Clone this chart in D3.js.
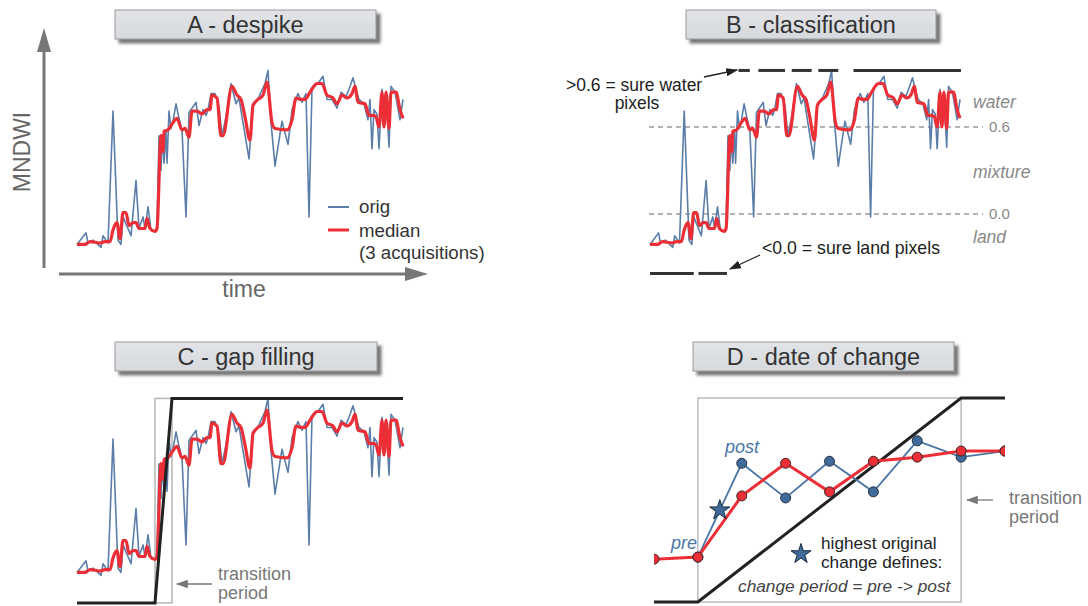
<!DOCTYPE html>
<html>
<head>
<meta charset="utf-8">
<script src="https://cdn.jsdelivr.net/npm/d3@7"></script>
<style>
  body { margin: 0; background: #fff; }
  svg { display: block; font-family: "Liberation Sans", Arial, sans-serif; }
</style>
</head>
<body>
<div id="chart"></div>
<script>
// original MNDWI series (time index, value)
const origT = [0, 9, 11, 16, 24, 26, 31, 36, 41, 44, 46, 54, 59, 62, 66, 68, 71, 74, 78, 80,
  82, 84, 85, 87, 89, 90, 92, 94, 96, 99, 102, 105, 109, 112, 119, 122, 126, 129, 131, 134,
  138, 142, 145, 149, 154, 159, 162, 166, 172, 176, 182, 188, 191, 194, 198, 205, 211, 215, 221, 225,
  229, 232, 235, 241, 246, 250, 255, 260, 264, 269, 272, 276, 279, 282, 287, 291, 293, 295, 297, 300,
  302, 305, 307, 309, 312, 314, 318, 323, 326];
const origV = [-0.21, -0.13, -0.20, -0.18, -0.23, -0.15, -0.20, 0.71, -0.18, -0.21, -0.02, -0.15, 0.23, -0.10, -0.02, -0.10, 0.05, -0.11, -0.12, -0.10,
  0.54, 0.30, 0.54, 0.35, 0.57, 0.35, 0.71, 0.59, 0.64, 0.76, 0.66, 0.58, -0.02, 0.70, 0.77, 0.61, 0.72, 0.68, 0.72, 0.83,
  0.83, 0.74, 0.54, 0.67, 0.90, 0.76, 0.80, 0.63, 0.38, 0.74, 0.81, 0.90, 0.99, 0.63, 0.33, 0.64, 0.48, 0.72, 0.83, 0.77,
  0.83, -0.02, 0.87, 0.90, 0.95, 0.79, 0.79, 0.73, 0.84, 0.81, 0.86, 0.94, 0.86, 0.79, 0.76, 0.65, 0.79, 0.45, 0.72, 0.69,
  0.45, 0.86, 0.60, 0.84, 0.46, 0.88, 0.84, 0.65, 0.79];

// median of 3 acquisitions
const medT = [0, 8, 13, 23, 28, 33, 36, 40, 43, 46, 49, 52, 56, 59, 62, 68, 70, 73, 78, 80,
  84, 86, 87, 91, 95, 100, 105, 108, 112, 115, 120, 125, 130, 133, 135, 140, 144, 146, 155, 160,
  164, 168, 173, 176, 181, 186, 190, 195, 198, 210, 215, 219, 224, 228, 233, 240, 245, 250, 256, 260,
  265, 270, 275, 278, 281, 288, 292, 296, 299, 302, 305, 307, 309, 312, 314, 319, 323, 326];
const medV = [-0.21, -0.21, -0.19, -0.20, -0.19, -0.19, -0.11, -0.06, -0.17, 0.01, 0.01, -0.08, -0.06, -0.06, -0.10, -0.10, -0.03, -0.10, -0.12, -0.10,
  0.54, 0.43, 0.57, 0.58, 0.62, 0.66, 0.58, 0.59, 0.53, 0.71, 0.71, 0.69, 0.72, 0.72, 0.82, 0.80, 0.54, 0.54, 0.88, 0.82,
  0.79, 0.67, 0.51, 0.75, 0.79, 0.82, 0.91, 0.63, 0.59, 0.58, 0.65, 0.80, 0.79, 0.79, 0.84, 0.90, 0.90, 0.82, 0.80, 0.76,
  0.82, 0.80, 0.83, 0.88, 0.77, 0.76, 0.68, 0.68, 0.67, 0.60, 0.84, 0.60, 0.84, 0.59, 0.84, 0.84, 0.72, 0.66];

// classification thresholds and sure-pixel periods
const thresholds = [0.6, 0.0];
const thresholdLabels = ["0.6", "0.0"];
const classNames = ["water", "mixture", "land"];
const classLevels = [0.77, 0.29, -0.16];
const waterRuns = [[93, 105], [114, 142], [149, 170], [177, 198], [214, 327]];
const landRuns = [[0, 46], [51, 81]];
const sureWater = 0.99, sureLand = -0.41;

// gap filling step
const gapT = [0, 78, 95, 326];
const gapV = [-0.42, -0.42, 0.99, 0.99];

// date of change, zoomed view
const dIdx = [0, 1, 2, 3, 4, 5, 6, 7, 8];
const dMedian = [0.21, 0.22, 0.52, 0.68, 0.54, 0.69, 0.71, 0.74, 0.74];
const dOrigIdx = [1, 2, 3, 4, 5, 6, 7, 8];
const dOrig = [0.22, 0.68, 0.51, 0.69, 0.54, 0.79, 0.71, 0.74];
const dStepIdx = [0, 1, 7, 8];
const dStepV = [0, 0, 1, 1];

const titles = ["A - despike", "B - classification", "C - gap filling", "D - date of change"];

const blue = "#5a7ea9", red = "#ec2f36", dotBlue = "#3e6b9c";

const svg = d3.select("#chart").append("svg")
  .attr("width", 1088).attr("height", 606);

const defs = svg.append("defs");
const shadow = defs.append("filter").attr("id", "shadow")
  .attr("x", "-5%").attr("y", "-20%").attr("width", "115%").attr("height", "160%");
shadow.append("feDropShadow").attr("dx", 4).attr("dy", 4).attr("stdDeviation", 1.6)
  .attr("flood-color", "#555").attr("flood-opacity", 0.8);
const grad = defs.append("linearGradient").attr("id", "boxfill").attr("x1", 0).attr("y1", 0).attr("x2", 0).attr("y2", 1);
grad.append("stop").attr("offset", "0%").attr("stop-color", "#e2e4e7");
grad.append("stop").attr("offset", "100%").attr("stop-color", "#d6d9dd");

function arrowMarker(id, color, size) {
  defs.append("marker").attr("id", id)
    .attr("viewBox", "0 0 10 10").attr("refX", 9).attr("refY", 5)
    .attr("markerWidth", size).attr("markerHeight", size)
    .attr("markerUnits", "userSpaceOnUse")
    .attr("orient", "auto")
    .append("path").attr("d", "M0,1.5 L10,5 L0,8.5 Z").attr("fill", color);
}
arrowMarker("arrBlack", "#222", 12);
arrowMarker("arrGray", "#777", 12);

// title boxes
const boxes = [[115, 10, 261], [686, 10, 250], [115, 342, 262], [693, 342, 261]];
boxes.forEach((b, i) => {
  svg.append("rect").attr("x", b[0]).attr("y", b[1]).attr("width", b[2]).attr("height", 29)
    .attr("fill", "url(#boxfill)").attr("stroke", "#999").attr("stroke-width", 1)
    .attr("filter", "url(#shadow)");
  svg.append("text").attr("x", b[0] + b[2] / 2).attr("y", b[1] + 15).attr("dy", "0.35em")
    .attr("text-anchor", "middle").attr("font-size", 23.5).attr("fill", "#333")
    .text(titles[i]);
});

function series(t, v) { return t.map((d, i) => [d, v[i]]); }
const orig = series(origT, origV);
const med = series(medT, medV);

function drawSeries(g, x, y) {
  const line = d3.line().x(d => x(d[0])).y(d => y(d[1]));
  g.append("path").attr("d", line(orig)).attr("fill", "none")
    .attr("stroke", blue).attr("stroke-width", 1.6).attr("stroke-linejoin", "round");
  g.append("path").attr("d", line.curve(d3.curveMonotoneX)(med)).attr("fill", "none")
    .attr("stroke", red).attr("stroke-width", 3.2).attr("stroke-linejoin", "round");
}

// ---------- A ----------
const xA = d3.scaleLinear().domain([0, 326]).range([77, 403]);
const yA = d3.scaleLinear().domain([0, 0.6]).range([214, 127]);
const gA = svg.append("g");
gA.append("line").attr("x1", 44).attr("y1", 268).attr("x2", 44).attr("y2", 50)
  .attr("stroke", "#777").attr("stroke-width", 3);
gA.append("path").attr("d", "M37,52 L44,28 L51,52 Z").attr("fill", "#777");
gA.append("line").attr("x1", 59).attr("y1", 274).attr("x2", 407).attr("y2", 274)
  .attr("stroke", "#777").attr("stroke-width", 3);
gA.append("path").attr("d", "M405,267 L428,274 L405,281 Z").attr("fill", "#777");
gA.append("text").attr("transform", "translate(22,152) rotate(-90)").attr("dy", "0.35em")
  .attr("text-anchor", "middle").attr("font-size", 23).attr("fill", "#666").text("MNDWI");
gA.append("text").attr("x", 244).attr("y", 289).attr("dy", "0.35em")
  .attr("text-anchor", "middle").attr("font-size", 23).attr("fill", "#666").text("time");
drawSeries(gA, xA, yA);
// legend
const legA = gA.append("g");
legA.append("line").attr("x1", 328).attr("x2", 349).attr("y1", 207).attr("y2", 207)
  .attr("stroke", blue).attr("stroke-width", 2);
legA.append("line").attr("x1", 328).attr("x2", 349).attr("y1", 230).attr("y2", 230)
  .attr("stroke", red).attr("stroke-width", 3);
[["orig", 206], ["median", 230], ["(3 acquisitions)", 252]].forEach(d => {
  legA.append("text").attr("x", 359).attr("y", d[1]).attr("dy", "0.35em")
    .attr("font-size", 18.7).attr("fill", "#333").text(d[0]);
});

// ---------- B ----------
const xB = d3.scaleLinear().domain([0, 326]).range([650, 960]);
const yB = yA;
const gB = svg.append("g");
thresholds.forEach((th, i) => {
  gB.append("line").attr("x1", 649).attr("x2", 983).attr("y1", yB(th)).attr("y2", yB(th))
    .attr("stroke", "#999").attr("stroke-width", 1.3).attr("stroke-dasharray", "5,4");
  gB.append("text").attr("x", 989).attr("y", yB(th)).attr("dy", "0.35em")
    .attr("font-size", 15).attr("fill", "#888").text(thresholdLabels[i]);
});
classNames.forEach((c, i) => {
  gB.append("text").attr("x", 973).attr("y", yB(classLevels[i])).attr("dy", "0.35em")
    .attr("font-size", 17.5).attr("font-style", "italic").attr("fill", "#888").text(c);
});
drawSeries(gB, xB, yB);
waterRuns.forEach(r => {
  gB.append("line").attr("x1", xB(r[0])).attr("x2", xB(r[1]))
    .attr("y1", yB(sureWater)).attr("y2", yB(sureWater))
    .attr("stroke", "#333").attr("stroke-width", 3);
});
landRuns.forEach(r => {
  gB.append("line").attr("x1", xB(r[0])).attr("x2", xB(r[1]))
    .attr("y1", yB(sureLand)).attr("y2", yB(sureLand))
    .attr("stroke", "#333").attr("stroke-width", 3);
});
gB.append("line").attr("x1", 704).attr("y1", 77).attr("x2", 737).attr("y2", 70)
  .attr("stroke", "#222").attr("stroke-width", 1.3).attr("marker-end", "url(#arrBlack)");
gB.append("text").attr("x", 566).attr("y", 85).attr("dy", "0.35em")
  .attr("font-size", 17.5).attr("fill", "#222").text(">0.6 = sure water");
gB.append("text").attr("x", 637).attr("y", 103).attr("dy", "0.35em").attr("text-anchor", "middle")
  .attr("font-size", 17.5).attr("fill", "#222").text("pixels");
gB.append("line").attr("x1", 760).attr("y1", 255).attr("x2", 730).attr("y2", 269)
  .attr("stroke", "#222").attr("stroke-width", 1.3).attr("marker-end", "url(#arrBlack)");
gB.append("text").attr("x", 762).attr("y", 248).attr("dy", "0.35em")
  .attr("font-size", 17.7).attr("fill", "#222").text("<0.0 = sure land pixels");

// ---------- C ----------
const xC = xA;
const yC = d3.scaleLinear().domain([0, 0.6]).range([542, 455]);
const gC = svg.append("g");
gC.append("rect").attr("x", xC(gapT[1])).attr("y", yC(gapV[2]))
  .attr("width", xC(gapT[2]) - xC(gapT[1])).attr("height", yC(gapV[0]) - yC(gapV[2]))
  .attr("fill", "none").attr("stroke", "#b5b5b5").attr("stroke-width", 1.5);
drawSeries(gC, xC, yC);
gC.append("path").attr("d", d3.line().x(d => xC(d[0])).y(d => yC(d[1]))(series(gapT, gapV)))
  .attr("fill", "none").attr("stroke", "#222").attr("stroke-width", 3);
gC.append("line").attr("x1", 212).attr("y1", 584).attr("x2", 177).attr("y2", 584)
  .attr("stroke", "#777").attr("stroke-width", 1.3).attr("marker-end", "url(#arrGray)");
gC.append("text").attr("x", 218).attr("y", 574).attr("dy", "0.35em")
  .attr("font-size", 18).attr("fill", "#777").text("transition");
gC.append("text").attr("x", 218).attr("y", 593).attr("dy", "0.35em")
  .attr("font-size", 18).attr("fill", "#777").text("period");

// ---------- D ----------
const xD = d3.scaleLinear().domain([0, 8]).range([654, 1005]);
const yD = d3.scaleLinear().domain([0, 1]).range([602, 398]);
const gD = svg.append("g");
defs.append("clipPath").attr("id", "clipD").append("rect")
  .attr("x", 654).attr("y", 380).attr("width", 351).attr("height", 226);
gD.append("rect").attr("x", xD(1)).attr("y", yD(1)).attr("width", xD(7) - xD(1)).attr("height", yD(0) - yD(1))
  .attr("fill", "none").attr("stroke", "#bbb").attr("stroke-width", 1.5);
const pD = gD.append("g").attr("clip-path", "url(#clipD)");
const lineD = d3.line().x(d => xD(d[0])).y(d => yD(d[1]));
pD.append("path").attr("d", lineD(series(dStepIdx, dStepV)))
  .attr("fill", "none").attr("stroke", "#222").attr("stroke-width", 3);
const dOrigPts = series(dOrigIdx, dOrig);
const dMedPts = series(dIdx, dMedian);
pD.append("path").attr("d", lineD(dOrigPts)).attr("fill", "none")
  .attr("stroke", "#4a76a6").attr("stroke-width", 1.8);
pD.append("path").attr("d", lineD(dMedPts)).attr("fill", "none")
  .attr("stroke", red).attr("stroke-width", 3);
pD.selectAll("circle.o").data(dOrigPts).enter().append("circle")
  .attr("cx", d => xD(d[0])).attr("cy", d => yD(d[1])).attr("r", 5)
  .attr("fill", dotBlue).attr("stroke", "#2a3140").attr("stroke-width", 1);
pD.selectAll("circle.m").data(dMedPts).enter().append("circle")
  .attr("cx", d => xD(d[0])).attr("cy", d => yD(d[1])).attr("r", 5)
  .attr("fill", red).attr("stroke", "#3a2a2a").attr("stroke-width", 1);

// star at the largest jump of the original series
let best = 0;
for (let i = 1; i < dOrigPts.length; i++) {
  if (dOrigPts[i][1] - dOrigPts[i - 1][1] > dOrigPts[best + 1][1] - dOrigPts[best][1]) best = i - 1;
}
const star = d3.symbol().type(d3.symbolStar).size(125);
const sx = (xD(dOrigPts[best][0]) + xD(dOrigPts[best + 1][0])) / 2;
const sy = (yD(dOrigPts[best][1]) + yD(dOrigPts[best + 1][1])) / 2;
gD.append("path").attr("d", star()).attr("transform", `translate(${sx},${sy})`)
  .attr("fill", dotBlue).attr("stroke", "#1d2736").attr("stroke-width", 1);
gD.append("path").attr("d", star()).attr("transform", "translate(801,554)")
  .attr("fill", dotBlue).attr("stroke", "#1d2736").attr("stroke-width", 1);

gD.append("text").attr("x", 725).attr("y", 447).attr("dy", "0.35em")
  .attr("font-size", 18).attr("font-style", "italic").attr("fill", "#4a76a6").text("post");
gD.append("text").attr("x", 671).attr("y", 543).attr("dy", "0.35em")
  .attr("font-size", 18).attr("font-style", "italic").attr("fill", "#4a76a6").text("pre");
gD.append("text").attr("x", 821).attr("y", 543).attr("dy", "0.35em")
  .attr("font-size", 17.2).attr("fill", "#222").text("highest original");
gD.append("text").attr("x", 821).attr("y", 562).attr("dy", "0.35em")
  .attr("font-size", 17.2).attr("fill", "#222").text("change defines:");
gD.append("text").attr("x", 738).attr("y", 586).attr("dy", "0.35em")
  .attr("font-size", 17.3).attr("font-style", "italic").attr("fill", "#444")
  .text("change period = pre -> post");
gD.append("line").attr("x1", 993).attr("y1", 500).attr("x2", 967).attr("y2", 500)
  .attr("stroke", "#777").attr("stroke-width", 1.3).attr("marker-end", "url(#arrGray)");
gD.append("text").attr("x", 1009).attr("y", 498).attr("dy", "0.35em")
  .attr("font-size", 18).attr("fill", "#777").text("transition");
gD.append("text").attr("x", 1009).attr("y", 517).attr("dy", "0.35em")
  .attr("font-size", 18).attr("fill", "#777").text("period");
</script>
</body>
</html>
